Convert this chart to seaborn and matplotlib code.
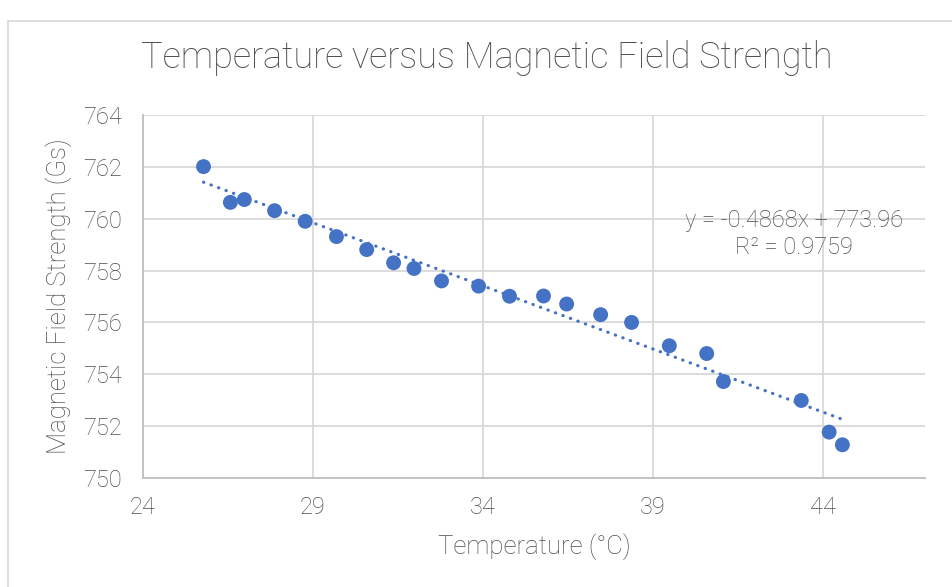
import numpy as np
import pandas as pd
import matplotlib
matplotlib.use("Agg")
import matplotlib.pyplot as plt
import seaborn as sns
from matplotlib.patches import Rectangle

# values
temperature = [25.78, 26.57, 26.98, 27.87, 28.77, 29.69, 30.58, 31.37, 31.97, 32.78, 33.87,
               34.78, 35.78, 36.46, 37.46, 38.37, 39.48, 40.58, 41.07, 43.36, 44.18, 44.57]
field = [762.01, 760.63, 760.74, 760.31, 759.90, 759.31, 758.81, 758.30, 758.08, 757.60, 757.40,
         757.01, 757.02, 756.71, 756.30, 756.00, 755.10, 754.80, 753.72, 752.99, 751.77, 751.28]
slope = -0.4868
intercept = 773.96
r_squared = 0.9759
x_ticks = [24, 29, 34, 39, 44]
y_ticks = [750, 752, 754, 756, 758, 760, 762, 764]

df = pd.DataFrame({"Temperature": temperature, "Field": field})

sns.set_theme(style="white")
plt.rcParams['font.family'] = ['Roboto', 'DejaVu Sans']
grey = "#4d4d4d"
blue = "#4472C4"
weight = "light"

fig = plt.figure(figsize=(9.53, 5.87), dpi=100)
ax = fig.add_axes([143 / 953, 1 - 478 / 587, (925 - 143) / 953, (478 - 115) / 587])

# outer chart border (Excel chart area)
fig.patches.append(Rectangle((8 / 953, -0.1), 1.2, 0.1 + 1 - 21 / 587, transform=fig.transFigure,
                             fill=False, edgecolor="#D9D9D9", linewidth=1.2))

sns.scatterplot(data=df, x="Temperature", y="Field", ax=ax, color=blue, s=115,
                edgecolor="none", zorder=3)

trend_x = np.array([min(temperature), max(temperature)])
trend_y = slope * trend_x + intercept
sns.lineplot(x=trend_x, y=trend_y, ax=ax, color=blue, linewidth=2.3,
             dashes=False, zorder=2)
ax.lines[-1].set_linestyle((0, (0.1, 2.4)))
ax.lines[-1].set_dash_capstyle("round")

ax.set_xlim(24, 47)
ax.set_ylim(750, 764)
ax.set_xticks(x_ticks)
ax.set_yticks(y_ticks)
ax.grid(True, color="#D9D9D9", linewidth=1.3)
ax.set_axisbelow(True)
for side in ["top", "right"]:
    ax.spines[side].set_visible(False)
for side in ["left", "bottom"]:
    ax.spines[side].set_color("#BFBFBF")
    ax.spines[side].set_linewidth(1.3)
ax.tick_params(length=0, labelsize=17, labelcolor=grey)
ax.tick_params(axis="x", pad=13)
ax.tick_params(axis="y", pad=15)
for lab in ax.get_xticklabels() + ax.get_yticklabels():
    lab.set_fontweight(weight)

ax.set_xlabel("Temperature (°C)", fontsize=18.5, color=grey, fontweight=weight, labelpad=10)
ax.set_ylabel("Magnetic Field Strength (Gs)", fontsize=18.5, color=grey, fontweight=weight, labelpad=8)

fig.text(487 / 953, 1 - 58 / 587, "Temperature versus Magnetic Field Strength",
         ha="center", va="center", fontsize=26, color=grey, fontweight=weight)

ax.text(43.14, 759.42, f"y = {slope}x + {intercept}\nR² = {r_squared}", ha="center", va="center",
        fontsize=17, color=grey, fontweight=weight, linespacing=1.25)

fig.savefig("out.png", dpi=100)
